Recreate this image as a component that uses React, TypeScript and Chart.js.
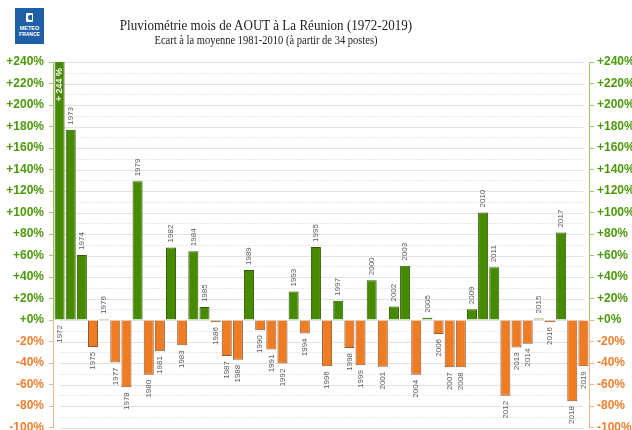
import React, { useEffect, useRef } from "react";
import { Chart, registerables } from "chart.js";

Chart.register(...registerables);

const years = [
  "1972", "1973", "1974", "1975", "1976", "1977", "1978", "1979", "1980", "1981",
  "1982", "1983", "1984", "1985", "1986", "1987", "1988", "1989", "1990", "1991",
  "1992", "1993", "1994", "1995", "1996", "1997", "1998", "1999", "2000", "2001",
  "2002", "2003", "2004", "2005", "2006", "2007", "2008", "2009", "2010", "2011",
  "2012", "2013", "2014", "2015", "2016", "2017", "2018", "2019",
];

const anomalies = [
  244, 177, 60.5, -25, 1, -39.5, -62.5, 129, -51, -29,
  67.5, -23.5, 64, 12, -2, -33.5, -37, 46.5, -9.5, -27.5,
  -40.5, 26.5, -12.5, 68, -43, 18, -26, -42, 37, -43.5,
  12.5, 50.5, -51, 2, -13, -44, -44, 10, 100, 49,
  -70.5, -25.5, -22, 1.5, -2, 81.5, -75.5, -43,
];

const Y_MIN = -100;
const Y_MAX = 240;
const Y_STEP = 20;
const Y_MINOR_STEP = 10;

const GREEN = "#468a00";
const GREEN_BORDER = "#2f5c05";
const ORANGE = "#f07c22";
const ORANGE_BORDER = "#8c5a3a";
const GREEN_TXT = "#4c9a0a";
const ORANGE_TXT = "#f08030";
const GREEN_AXIS = "#9cc66e";
const ORANGE_AXIS = "#f6b585";
const ZERO_AXIS = "#d8bb8c";

const fmtTick = (v: number) => (v >= 0 ? "+" : "") + v + "%";

const gridPlugin = {
  id: "customGrid",
  beforeDatasetsDraw(chart: any) {
    const { ctx, scales } = chart;
    const x = scales.x;
    const y = scales.y;
    const x0 = x.getPixelForValue(0);
    const x1 = x.getPixelForValue(years.length - 1);
    ctx.save();
    for (let v = Y_MIN; v <= Y_MAX; v += Y_MINOR_STEP) {
      const py = Math.round(y.getPixelForValue(v)) + 0.5;
      ctx.beginPath();
      if (v % Y_STEP === 0) {
        ctx.setLineDash([]);
        ctx.strokeStyle = "#e2e2e2";
      } else {
        ctx.setLineDash([1, 2]);
        ctx.strokeStyle = "#d2d2d2";
      }
      ctx.lineWidth = 1;
      ctx.moveTo(x0, py);
      ctx.lineTo(x1, py);
      ctx.stroke();
    }
    ctx.restore();
  },
  afterDraw(chart: any) {
    const { ctx, chartArea, scales } = chart;
    const y = scales.y;
    const yTop = y.getPixelForValue(Y_MAX);
    const yZero = y.getPixelForValue(0);
    const yBot = y.getPixelForValue(Y_MIN);
    ctx.save();
    ctx.lineWidth = 1;
    for (const ax of [chartArea.left - 0.5, chartArea.right + 0.5]) {
      ctx.strokeStyle = GREEN_AXIS;
      ctx.beginPath();
      ctx.moveTo(ax, yTop);
      ctx.lineTo(ax, yZero);
      ctx.stroke();
      ctx.strokeStyle = ORANGE_AXIS;
      ctx.beginPath();
      ctx.moveTo(ax, yZero);
      ctx.lineTo(ax, yBot);
      ctx.stroke();
    }
    ctx.restore();
  },
};

const labelPlugin = {
  id: "yearLabels",
  afterDatasetsDraw(chart: any) {
    const { ctx, chartArea, scales } = chart;
    const y = scales.y;
    const meta = chart.getDatasetMeta(0);
    ctx.save();
    meta.data.forEach((bar: any, i: number) => {
      const v = anomalies[i];
      const cx = bar.x;
      let anchorY: number;
      let align: CanvasTextAlign;
      if (v > Y_MAX) {
        anchorY = y.getPixelForValue(0) + 5;
        align = "right";
        ctx.save();
        ctx.translate(cx, chartArea.top + 6);
        ctx.rotate(-Math.PI / 2);
        ctx.font = 'bold 9px "Liberation Sans", Arial, sans-serif';
        ctx.fillStyle = "#ffffff";
        ctx.textAlign = "right";
        ctx.textBaseline = "middle";
        ctx.fillText("+ " + v + " %", 0, 0);
        ctx.restore();
      } else if (v >= 0) {
        anchorY = bar.y - 5;
        align = "left";
      } else {
        anchorY = bar.y + 5;
        align = "right";
      }
      ctx.save();
      ctx.translate(cx, anchorY);
      ctx.rotate(-Math.PI / 2);
      ctx.font = '8px "Liberation Sans", Arial, sans-serif';
      ctx.fillStyle = "#5a5a5a";
      ctx.textAlign = align;
      ctx.textBaseline = "middle";
      ctx.fillText(years[i], 0, 0);
      ctx.restore();
    });
    ctx.restore();
  },
};

export default function App() {
  const ref = useRef<HTMLCanvasElement>(null);

  useEffect(() => {
    if (!ref.current) return;
    const tickColor = (c: any) =>
      c.tick.value > 0 ? GREEN_AXIS : c.tick.value < 0 ? ORANGE_AXIS : ZERO_AXIS;
    const labelColor = (c: any) => (c.tick.value >= 0 ? GREEN_TXT : ORANGE_TXT);
    const tickFont = { family: '"Liberation Sans", Arial, sans-serif', size: 12, weight: "bold" as const };

    const chart = new Chart(ref.current, {
      type: "bar",
      data: {
        labels: years,
        datasets: [
          {
            data: anomalies,
            backgroundColor: (c: any) => ((c.raw ?? 0) >= 0 ? GREEN : ORANGE),
            borderColor: (c: any) => ((c.raw ?? 0) >= 0 ? GREEN_BORDER : ORANGE_BORDER),
            borderWidth: 1,
            barPercentage: 0.9,
            categoryPercentage: 1.0,
          },
        ],
      },
      options: {
        responsive: false,
        maintainAspectRatio: false,
        animation: false,
        layout: { padding: { top: 62, bottom: 2.5, left: 0, right: 0 } },
        plugins: {
          legend: { display: false },
          tooltip: { enabled: false },
          title: { display: false },
        },
        scales: {
          x: {
            type: "category",
            display: false,
            grid: { display: false },
          },
          y: {
            position: "left",
            min: Y_MIN,
            max: Y_MAX,
            ticks: {
              stepSize: Y_STEP,
              callback: (v: any) => fmtTick(Number(v)),
              color: labelColor,
              font: tickFont,
              padding: 5,
            },
            grid: {
              display: true,
              drawOnChartArea: false,
              drawTicks: true,
              tickLength: 5,
              color: tickColor,
            },
            border: { display: false },
            afterFit: (s: any) => {
              s.width = 54;
              s.paddingTop = 0;
              s.paddingBottom = 0;
            },
          },
          y2: {
            position: "right",
            min: Y_MIN,
            max: Y_MAX,
            ticks: {
              stepSize: Y_STEP,
              callback: (v: any) => fmtTick(Number(v)),
              color: labelColor,
              font: tickFont,
              padding: 3,
            },
            grid: {
              display: true,
              drawOnChartArea: false,
              drawTicks: true,
              tickLength: 5,
              color: tickColor,
            },
            border: { display: false },
            afterFit: (s: any) => {
              s.width = 43;
              s.paddingTop = 0;
              s.paddingBottom = 0;
            },
          },
        },
      },
      plugins: [gridPlugin, labelPlugin],
    });
    return () => chart.destroy();
  }, []);

  return (
    <div
      style={{
        position: "absolute",
        left: 0,
        top: 0,
        width: 632,
        height: 430,
        background: "#ffffff",
        overflow: "hidden",
      }}
    >
      <canvas
        ref={ref}
        width={632}
        height={430}
        style={{ position: "absolute", left: 0, top: 0, width: 632, height: 430 }}
      />
      <div
        style={{
          position: "absolute",
          left: 15,
          top: 8,
          width: 29,
          height: 36,
          background: "#1f5fa6",
          color: "#ffffff",
          fontFamily: '"Liberation Sans", Arial, sans-serif',
          fontWeight: "bold",
          textAlign: "center",
        }}
      >
        <div
          style={{
            position: "absolute",
            left: 11,
            top: 5,
            width: 7,
            height: 9,
            background: "#ffffff",
            borderRadius: 1,
          }}
        >
          <div
            style={{
              position: "absolute",
              left: 2,
              top: 2,
              width: 4,
              height: 5,
              background: "#1f5fa6",
              borderRadius: "3px 0 0 3px",
            }}
          />
        </div>
        <div style={{ position: "absolute", left: 0, top: 17, width: 29, fontSize: 5.5, lineHeight: "6px" }}>
          METEO
        </div>
        <div style={{ position: "absolute", left: 0, top: 23, width: 29, fontSize: 5, lineHeight: "6px" }}>
          FRANCE
        </div>
      </div>
      <div
        style={{
          position: "absolute",
          left: 0,
          top: 18.4,
          width: 532,
          textAlign: "center",
          fontFamily: '"Liberation Serif", "Times New Roman", serif',
          fontSize: 15,
          lineHeight: "15px",
          color: "#222222",
          whiteSpace: "nowrap",
          transform: "scaleX(0.87)",
          transformOrigin: "266px 50%",
        }}
      >
        Pluviométrie mois de AOUT à La Réunion (1972-2019)
      </div>
      <div
        style={{
          position: "absolute",
          left: 0,
          top: 34.3,
          width: 532,
          textAlign: "center",
          fontFamily: '"Liberation Serif", "Times New Roman", serif',
          fontSize: 12.5,
          lineHeight: "13px",
          color: "#222222",
          whiteSpace: "nowrap",
          transform: "scaleX(0.84)",
          transformOrigin: "266px 50%",
        }}
      >
        Ecart à la moyenne 1981-2010 (à partir de 34 postes)
      </div>
    </div>
  );
}
